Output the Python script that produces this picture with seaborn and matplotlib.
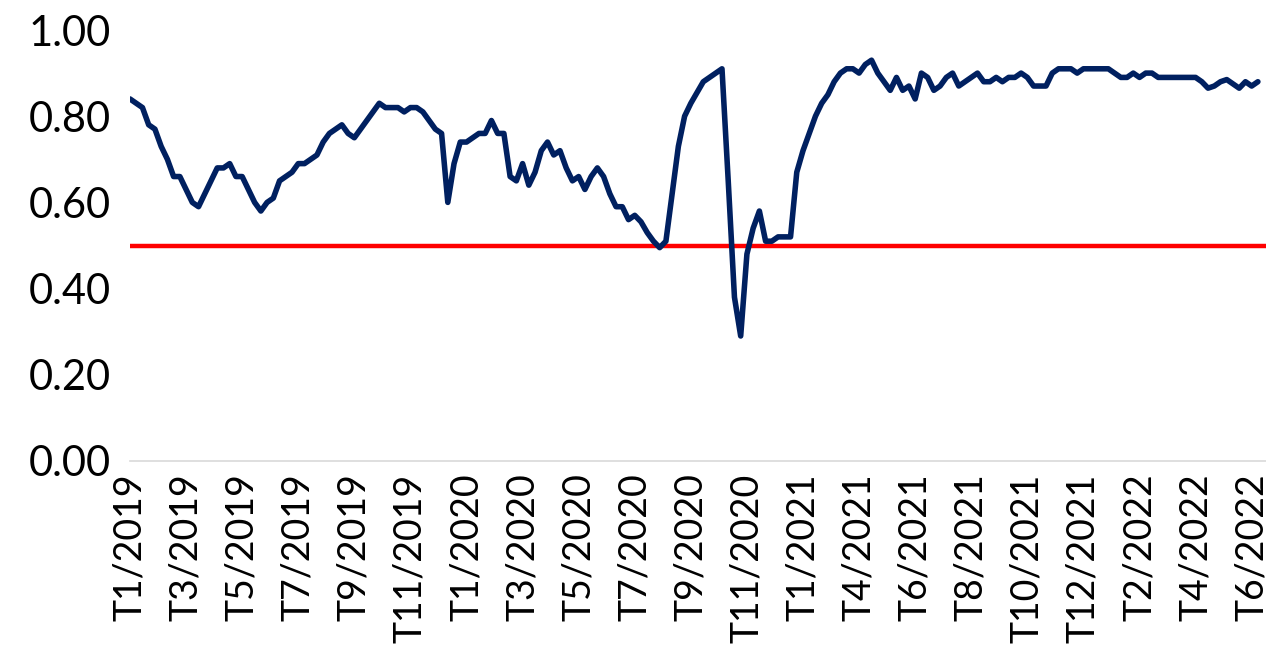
import matplotlib
matplotlib.use("Agg")
import matplotlib.pyplot as plt
import seaborn as sns
import pandas as pd
import numpy as np

# Weekly ratio series, Jan 2019 - Jun 2022
ratio = [
    0.84, 0.83, 0.82, 0.78, 0.77, 0.73, 0.70, 0.66, 0.66, 0.63,
    0.60, 0.59, 0.62, 0.65, 0.68, 0.68, 0.69, 0.66, 0.66, 0.63,
    0.60, 0.58, 0.60, 0.61, 0.65, 0.66, 0.67, 0.69, 0.69, 0.70,
    0.71, 0.74, 0.76, 0.77, 0.78, 0.76, 0.75, 0.77, 0.79, 0.81,
    0.83, 0.82, 0.82, 0.82, 0.81, 0.82, 0.82, 0.81, 0.79, 0.77,
    0.76, 0.60, 0.69, 0.74, 0.74, 0.75, 0.76, 0.76, 0.79, 0.76,
    0.76, 0.66, 0.65, 0.69, 0.64, 0.67, 0.72, 0.74, 0.71, 0.72,
    0.68, 0.65, 0.66, 0.63, 0.66, 0.68, 0.66, 0.62, 0.59, 0.59,
    0.56, 0.57, 0.555, 0.53, 0.51, 0.495, 0.51, 0.62, 0.73, 0.80,
    0.83, 0.855, 0.88, 0.89, 0.90, 0.91, 0.65, 0.38, 0.29, 0.48,
    0.54, 0.58, 0.51, 0.51, 0.52, 0.52, 0.52, 0.67, 0.72, 0.76,
    0.80, 0.83, 0.85, 0.88, 0.90, 0.91, 0.91, 0.90, 0.92, 0.93,
    0.90, 0.88, 0.86, 0.89, 0.86, 0.87, 0.84, 0.90, 0.89, 0.86,
    0.87, 0.89, 0.90, 0.87, 0.88, 0.89, 0.90, 0.88, 0.88, 0.89,
    0.88, 0.89, 0.89, 0.90, 0.89, 0.87, 0.87, 0.87, 0.90, 0.91,
    0.91, 0.91, 0.90, 0.91, 0.91, 0.91, 0.91, 0.91, 0.90, 0.89,
    0.89, 0.90, 0.89, 0.90, 0.90, 0.89, 0.89, 0.89, 0.89, 0.89,
    0.89, 0.89, 0.88, 0.865, 0.87, 0.88, 0.885, 0.875, 0.865, 0.88,
    0.87, 0.88,
]
threshold = 0.50

tick_labels = [
    "T1/2019", "T3/2019", "T5/2019", "T7/2019", "T9/2019", "T11/2019",
    "T1/2020", "T3/2020", "T5/2020", "T7/2020", "T9/2020", "T11/2020",
    "T1/2021", "T4/2021", "T6/2021", "T8/2021", "T10/2021", "T12/2021",
    "T2/2022", "T4/2022", "T6/2022",
]
label_step = 9

sns.set_theme(style="white")
plt.rcParams["font.family"] = ["Lato", "DejaVu Sans"]

df = pd.DataFrame({"week": np.arange(len(ratio)), "ratio": ratio})

fig = plt.figure(figsize=(12.66, 6.55), dpi=100)
ax = fig.add_axes([130 / 1266, 1 - 461 / 655, 1136 / 1266, 431 / 655])

sns.lineplot(data=df, x="week", y="ratio", ax=ax, color="#002060",
             linewidth=4.0, zorder=3)
ax.axhline(threshold, color="#ff0000", linewidth=3.2, zorder=2)

ax.set_xlim(0, len(ratio) - 1 + 1.3)
ax.set_ylim(0, 1.0)
yt = np.arange(0, 1.01, 0.2)
ax.set_yticks(yt)
ax.set_yticklabels([f"{v:.2f}" for v in yt], fontsize=30)
ax.set_xticks(np.arange(len(tick_labels)) * label_step)
ax.set_xticklabels(tick_labels, rotation=90, fontsize=27)
ax.tick_params(axis="both", length=0, colors="black")
ax.tick_params(axis="y", pad=14)
ax.tick_params(axis="x", pad=9)
ax.set_xlabel("")
ax.set_ylabel("")

for side in ["left", "right", "top"]:
    ax.spines[side].set_visible(False)
ax.spines["bottom"].set_color("#d9d9d9")
ax.spines["bottom"].set_linewidth(1.2)
ax.patch.set_alpha(0)

fig.savefig("out.png", dpi=100, facecolor="white")
